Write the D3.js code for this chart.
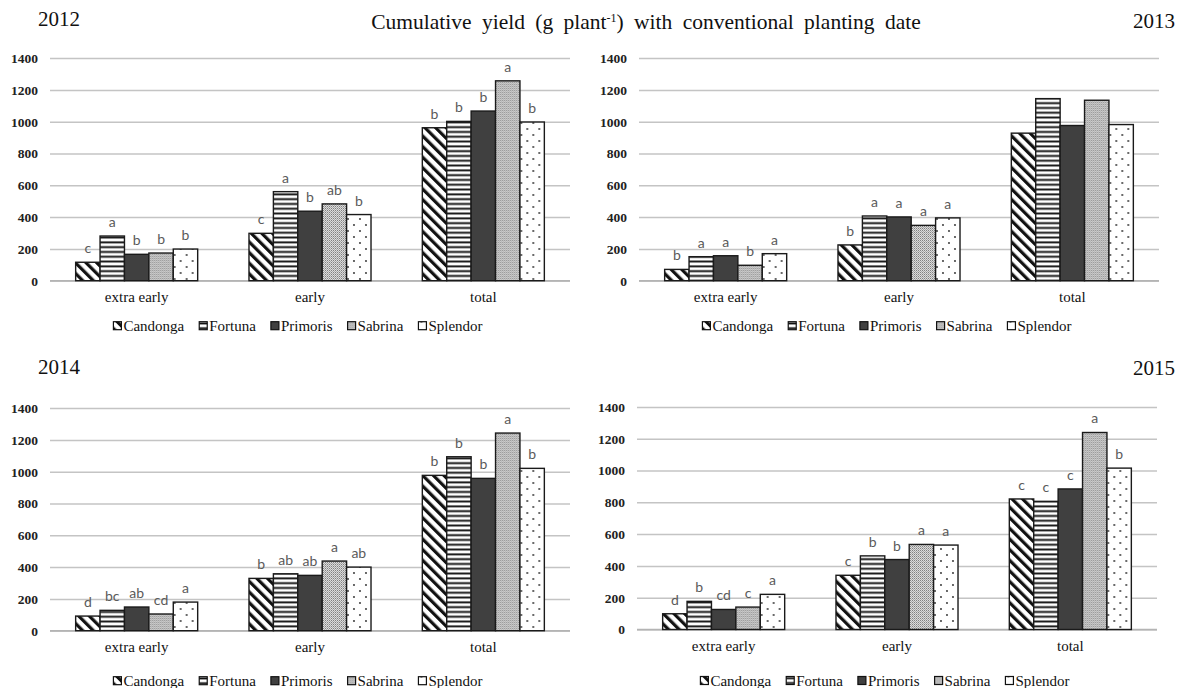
<!DOCTYPE html>
<html>
<head>
<meta charset="utf-8">
<script src="https://cdn.jsdelivr.net/npm/d3@7"></script>
<style>
  html, body { margin: 0; padding: 0; background: #fff; }
  svg { display: block; }
  .serif { font-family: "Liberation Serif", "Times New Roman", serif; }
  .sans { font-family: Lato, "Open Sans", sans-serif; }
</style>
</head>
<body>
<svg id="chart" width="1179" height="688"></svg>
<script>
// Harvest stages and cultivars
const categories = ["extra early", "early", "total"];
const cultivars = ["Candonga", "Fortuna", "Primoris", "Sabrina", "Splendor"];
const yTicks = [0, 200, 400, 600, 800, 1000, 1200, 1400];

// Cumulative yield (g plant-1), rows = harvest stage, columns = cultivar
const yield2012 = [
  [116, 281, 166, 174, 199],
  [298, 560, 437, 483, 416],
  [962, 1002, 1067, 1257, 998]
];
const yield2013 = [
  [71, 151, 157, 97, 170],
  [225, 407, 401, 348, 395],
  [928, 1145, 976, 1135, 982]
];
const yield2014 = [
  [92, 128, 149, 105, 180],
  [329, 358, 348, 438, 400],
  [977, 1094, 958, 1243, 1021]
];
const yield2015 = [
  [99, 177, 126, 141, 221],
  [341, 463, 440, 535, 531],
  [821, 806, 884, 1239, 1015]
];

// Mean separation letters (null = no letters shown)
const letters2012 = [["c", "a", "b", "b", "b"], ["c", "a", "b", "ab", "b"], ["b", "b", "b", "a", "b"]];
const letters2013 = [["b", "a", "a", "b", "a"], ["b", "a", "a", "a", "a"], null];
const letters2014 = [["d", "bc", "ab", "cd", "a"], ["b", "ab", "ab", "a", "ab"], ["b", "b", "b", "a", "b"]];
const letters2015 = [["d", "b", "cd", "c", "a"], ["c", "b", "b", "a", "a"], ["c", "c", "c", "a", "b"]];

const svg = d3.select("#chart");

// ---- fill patterns ----
const defs = svg.append("defs");

const pDiag = defs.append("pattern").attr("id", "p-candonga")
  .attr("patternUnits", "userSpaceOnUse").attr("width", 7.5).attr("height", 7.5)
  .attr("patternTransform", "rotate(-45)");
pDiag.append("rect").attr("width", 7.5).attr("height", 7.5).attr("fill", "#fff");
pDiag.append("rect").attr("width", 3.2).attr("height", 7.5).attr("fill", "#111");

const pHoriz = defs.append("pattern").attr("id", "p-fortuna")
  .attr("patternUnits", "userSpaceOnUse").attr("width", 6).attr("height", 4.8);
pHoriz.append("rect").attr("width", 6).attr("height", 4.8).attr("fill", "#fff");
pHoriz.append("rect").attr("y", 1.4).attr("width", 6).attr("height", 1.9).attr("fill", "#111");

const pFine = defs.append("pattern").attr("id", "p-sabrina")
  .attr("patternUnits", "userSpaceOnUse").attr("width", 2).attr("height", 2);
pFine.append("rect").attr("width", 2).attr("height", 2).attr("fill", "#dcdcdc");
pFine.append("rect").attr("width", 1).attr("height", 1).attr("fill", "#808080");
pFine.append("rect").attr("x", 1).attr("y", 1).attr("width", 1).attr("height", 1).attr("fill", "#a8a8a8");

const pDots = defs.append("pattern").attr("id", "p-splendor")
  .attr("patternUnits", "userSpaceOnUse").attr("width", 12).attr("height", 12);
pDots.append("rect").attr("width", 12).attr("height", 12).attr("fill", "#fff");
pDots.append("circle").attr("cx", 3).attr("cy", 3).attr("r", 0.9).attr("fill", "#222");
pDots.append("circle").attr("cx", 9).attr("cy", 9).attr("r", 0.9).attr("fill", "#222");

const fills = {
  Candonga: "url(#p-candonga)",
  Fortuna: "url(#p-fortuna)",
  Primoris: "#404040",
  Sabrina: "url(#p-sabrina)",
  Splendor: "url(#p-splendor)"
};

// ---- title ----
const title = svg.append("text")
  .attr("class", "serif")
  .attr("x", 646).attr("y", 29)
  .attr("text-anchor", "middle")
  .style("font-size", "21.5px")
  .style("word-spacing", "5px")
  .attr("fill", "#111");
title.append("tspan").text("Cumulative yield (g plant");
title.append("tspan").attr("dy", -7).style("font-size", "12px").text("-1");
title.append("tspan").attr("dy", 7).text(") with conventional planting date");

// ---- panels ----
const panels = [
  { year: "2012", values: yield2012, letters: letters2012, x0: 50, x1: 570, yZero: 280.7, yearX: 38, yearY: 26, anchor: "start", legDy: 50 },
  { year: "2013", values: yield2013, letters: letters2013, x0: 639, x1: 1159, yZero: 280.7, yearX: 1175, yearY: 28, anchor: "end", legDy: 50 },
  { year: "2014", values: yield2014, letters: letters2014, x0: 50, x1: 570, yZero: 630.7, yearX: 38, yearY: 374, anchor: "start", legDy: 55 },
  { year: "2015", values: yield2015, letters: letters2015, x0: 637, x1: 1157, yZero: 629.5, yearX: 1175, yearY: 375, anchor: "end", legDy: 56 }
];

panels.forEach(p => {
  const g = svg.append("g");

  const y = d3.scaleLinear().domain([0, 1400]).range([p.yZero, p.yZero - 222.6]);
  const x = d3.scaleBand().domain(categories).range([p.x0, p.x1])
    .paddingInner(0.296).paddingOuter(0.148);
  const xs = d3.scaleBand().domain(cultivars).range([0, x.bandwidth()]);

  // year label
  g.append("text")
    .attr("class", "serif")
    .attr("x", p.yearX).attr("y", p.yearY)
    .attr("text-anchor", p.anchor)
    .style("font-size", "21px")
    .attr("fill", "#111")
    .text(p.year);

  // value axis with gridlines
  const yAxis = g.append("g")
    .attr("transform", `translate(${p.x0},0)`)
    .call(d3.axisLeft(y).tickValues(yTicks).tickFormat(d3.format("d"))
      .tickSize(-(p.x1 - p.x0)).tickPadding(12));
  yAxis.attr("font-family", null);
  yAxis.select(".domain").remove();
  yAxis.selectAll(".tick line").attr("stroke", "#c4c4c4").attr("stroke-width", 1.5);
  yAxis.selectAll(".tick text")
    .attr("class", "serif")
    .style("font-size", "13.5px").style("font-weight", "bold")
    .attr("fill", "#222");

  // category axis
  const xAxis = g.append("g")
    .attr("transform", `translate(0,${p.yZero})`)
    .call(d3.axisBottom(x).tickSize(0).tickPadding(11));
  xAxis.attr("font-family", null);
  xAxis.select(".domain").attr("stroke", "#b4b4b4").attr("stroke-width", 1.5)
    .attr("d", `M${p.x0},0H${p.x1}`);
  xAxis.selectAll(".tick text")
    .attr("class", "serif")
    .style("font-size", "15px").attr("fill", "#111");

  // bars
  categories.forEach((cat, ci) => {
    const grp = g.append("g").attr("transform", `translate(${x(cat)},0)`);
    cultivars.forEach((cv, k) => {
      const v = p.values[ci][k];
      grp.append("rect")
        .attr("x", xs(cv)).attr("y", y(v))
        .attr("width", xs.bandwidth()).attr("height", y(0) - y(v))
        .attr("fill", fills[cv])
        .attr("stroke", "#1a1a1a").attr("stroke-width", 1.4);
      const lab = p.letters[ci];
      if (lab) {
        grp.append("text")
          .attr("class", "sans")
          .attr("x", xs(cv) + xs.bandwidth() / 2).attr("y", y(v) - 9)
          .attr("text-anchor", "middle")
          .style("font-size", "14px")
          .attr("fill", "#5a5a5a")
          .text(lab[k]);
      }
    });
  });

  // legend
  const leg = g.append("g").attr("transform", `translate(0,${p.yZero + p.legDy})`);
  const items = [];
  cultivars.forEach(cv => {
    const it = leg.append("g");
    it.append("rect")
      .attr("x", 0).attr("y", -9).attr("width", 8).attr("height", 8)
      .attr("fill", fills[cv]).attr("stroke", "#111").attr("stroke-width", 1.2);
    const t = it.append("text")
      .attr("class", "serif")
      .attr("x", 10).attr("y", 0)
      .style("font-size", "15px").attr("fill", "#111")
      .text(cv);
    const w = 10 + t.node().getComputedTextLength();
    items.push({ it, w });
  });
  const gap = 15;
  const total = d3.sum(items, d => d.w) + gap * (items.length - 1);
  let cx = (p.x0 + p.x1) / 2 - 12 - total / 2;
  items.forEach(d => {
    d.it.attr("transform", `translate(${cx},0)`);
    cx += d.w + gap;
  });
});
</script>
</body>
</html>
